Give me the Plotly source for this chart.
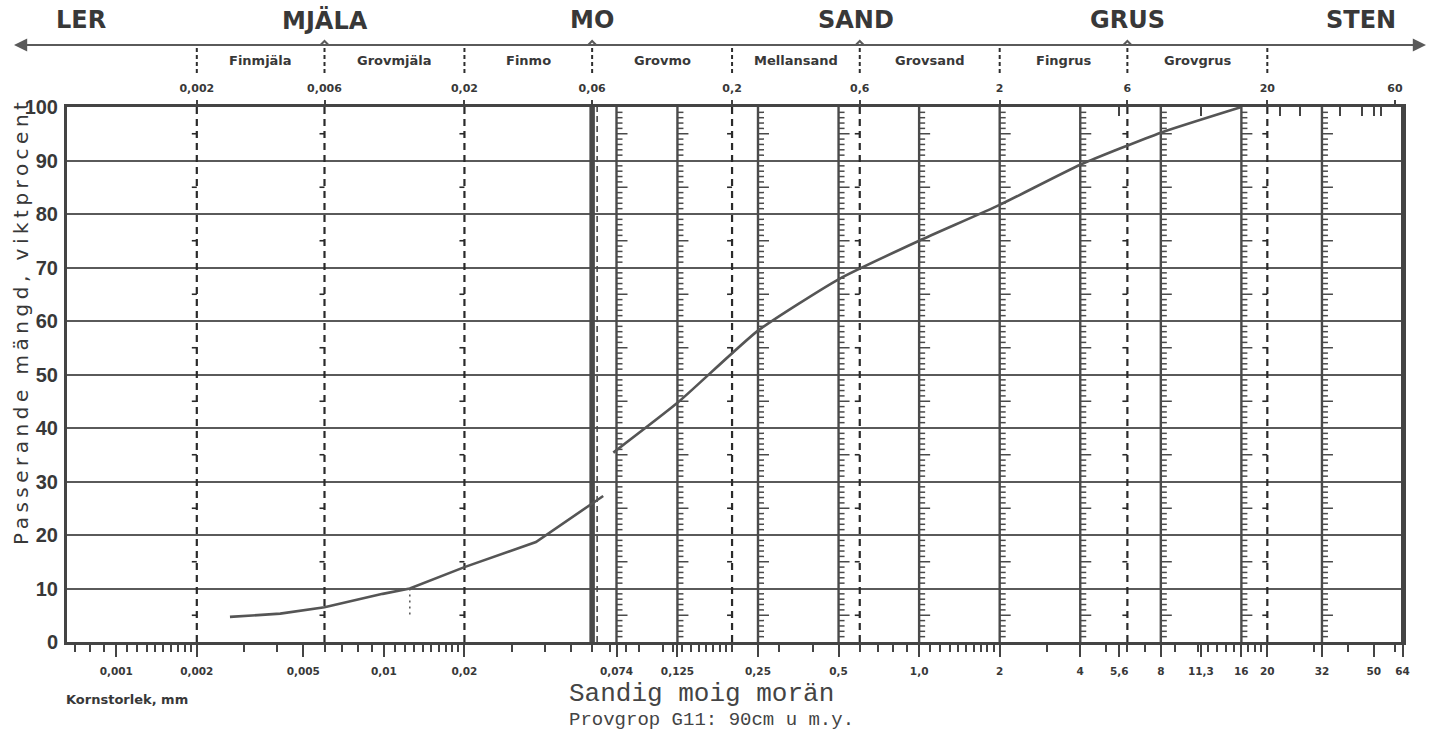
import numpy as np
import plotly.graph_objects as go

# ---- grading curve: passing percentage by grain size (mm) ----
# fine fraction (sedimentation analysis)
fine_size = [0.00266, 0.0041, 0.006, 0.0099, 0.0125, 0.02, 0.037, 0.06, 0.066]
fine_pass = [4.7, 5.3, 6.5, 9.0, 10.0, 14.0, 18.7, 25.8, 27.3]
# coarse fraction (sieve analysis)
sieve_size = [0.072, 0.125, 0.25, 0.5, 1.0, 2.0, 4.0, 8.0, 16.0]
sieve_pass = [35.4, 44.7, 58.2, 67.8, 75.0, 81.7, 89.2, 95.2, 100.0]

# ---- form layout ----
main_classes = ["MJÄLA", "MO", "SAND", "GRUS"]
main_class_pos = [0.006, 0.06, 0.58, 6]
main_limits = [0.006, 0.06, 0.6, 6]
class_limits = [0.002, 0.006, 0.02, 0.06, 0.2, 0.6, 2, 6, 20]
sub_classes = ["Finmjäla", "Grovmjäla", "Finmo", "Grovmo",
               "Mellansand", "Grovsand", "Fingrus", "Grovgrus"]
top_tick_vals = [0.002, 0.006, 0.02, 0.06, 0.2, 0.6, 2, 6, 20, 60]
top_tick_text = ["0,002", "0,006", "0,02", "0,06", "0,2", "0,6", "2", "6", "20", "60"]
top_inner_ticks = [5.6, 11.3, 22.4, 26.5, 37.5, 45, 50, 53]
bottom_tick_vals = [0.001, 0.002, 0.005, 0.01, 0.02, 0.074, 0.125, 0.25, 0.5, 1.0,
                    2, 4, 5.6, 8, 11.3, 16, 20, 32, 50, 64]
bottom_tick_text = ["0,001", "0,002", "0,005", "0,01", "0,02", "0,074", "0,125", "0,25",
                    "0,5", "1,0", "2", "4", "5,6", "8", "11,3", "16", "20", "32", "50", "64"]
sieve_lines = [0.074, 0.125, 0.25, 0.5, 1.0, 2, 4, 8, 16, 32]
dashed_limits = [0.002, 0.006, 0.02, 0.2, 0.6, 6, 20]
thick_limit = 0.06
y_ticks = list(range(0, 101, 10))

INK = "#383838"
HEAD_FONT = "DejaVu Sans"
NARROW = "Liberation Sans Narrow, Liberation Sans, sans-serif"
MONO = "Liberation Mono"

X_RANGE = [-3.184, 1.808]          # log10 of 0.000655 .. 64.3 mm
PX_PER_DEC = 1336 / (X_RANGE[1] - X_RANGE[0])


def px_factor(px):
    """multiplicative x-step equal to a given horizontal pixel distance"""
    return 10 ** (px / PX_PER_DEC)


fig = go.Figure()

# sieve lines with a 1 % comb on their right side
sx, sy, cx, cy = [], [], [], []
for s in sieve_lines:
    sx += [s, s, None]
    sy += [0, 100, None]
    for p in range(1, 100):
        if p % 10 == 0:
            continue
        L = 11 if p % 5 == 0 else 6
        cx += [s, s * px_factor(L), None]
        cy += [p, p, None]
fig.add_trace(go.Scatter(x=cx, y=cy, mode="lines", line=dict(color="#4a4a4a", width=1.5),
                         hoverinfo="skip", showlegend=False))
fig.add_trace(go.Scatter(x=sx, y=sy, mode="lines", line=dict(color="#4a4a4a", width=2.4),
                         hoverinfo="skip", showlegend=False))

# dashed class limits, with a short stub to the left at every odd 5 %
dx, dy, kx, ky = [], [], [], []
for d in dashed_limits:
    dx += [d, d, None]
    dy += [0, 100, None]
    for p in range(5, 100, 10):
        kx += [d, d / px_factor(5), None]
        ky += [p, p, None]
fig.add_trace(go.Scatter(x=dx, y=dy, mode="lines",
                         line=dict(color="#2a2a2a", width=2.2, dash="7px,5px"),
                         hoverinfo="skip", showlegend=False))
fig.add_trace(go.Scatter(x=kx, y=ky, mode="lines",
                         line=dict(color="#2a2a2a", width=1.6),
                         hoverinfo="skip", showlegend=False))

# the silt/sand boundary: heavy line with a dashed companion
fig.add_trace(go.Scatter(x=[thick_limit, thick_limit], y=[0, 100], mode="lines",
                         line=dict(color="#4a4a4a", width=5.5),
                         hoverinfo="skip", showlegend=False))
t2 = thick_limit * px_factor(5)
fig.add_trace(go.Scatter(x=[t2, t2], y=[0, 100], mode="lines",
                         line=dict(color="#4a4a4a", width=1.6, dash="6px,4px"),
                         hoverinfo="skip", showlegend=False))

# grading curve
fig.add_trace(go.Scatter(x=fine_size, y=fine_pass, mode="lines",
                         line=dict(color="#555555", width=2.6),
                         hoverinfo="skip", showlegend=False))
fig.add_trace(go.Scatter(x=sieve_size, y=sieve_pass, mode="lines",
                         line=dict(color="#555555", width=2.6, shape="spline", smoothing=0.5),
                         hoverinfo="skip", showlegend=False))

# d10 marker: dotted drop from the 10 % crossing of the curve
d10 = 10 ** np.interp(10, fine_pass, np.log10(fine_size))
fig.add_trace(go.Scatter(x=[d10, d10], y=[10, 4.5], mode="lines",
                         line=dict(color="#555555", width=1.5, dash="2px,4px"),
                         hoverinfo="skip", showlegend=False))

# invisible trace to carry the top scale
fig.add_trace(go.Scatter(x=[0.01, 1], y=[50, 50], xaxis="x2", mode="lines",
                         line=dict(width=0), opacity=0, hoverinfo="skip",
                         showlegend=False))

minor_vals = []
for k in range(-4, 2):
    for m in list(np.arange(1.1, 2.0, 0.1)) + list(range(2, 10)):
        v = m * 10 ** k
        if 10 ** X_RANGE[0] <= v <= 10 ** X_RANGE[1]:
            minor_vals.append(float(v))

fig.update_layout(
    width=1429, height=755,
    margin=dict(l=67, r=26, t=107, b=113),
    paper_bgcolor="white", plot_bgcolor="white",
    font=dict(family=HEAD_FONT, color=INK),
    xaxis=dict(type="log", range=X_RANGE, showgrid=False, zeroline=False,
               showline=True, linecolor="#444444", linewidth=3, mirror=True,
               tickmode="array", tickvals=bottom_tick_vals, ticktext=bottom_tick_text,
               ticks="outside", ticklen=12, tickwidth=2, tickcolor="#444444",
               ticklabelstandoff=5,
               tickfont=dict(family=HEAD_FONT, size=10.5, color=INK, weight="bold"),
               minor=dict(tickvals=minor_vals, ticks="outside", ticklen=7,
                          tickwidth=1.6, tickcolor="#444444", showgrid=False)),
    xaxis2=dict(type="log", range=X_RANGE, overlaying="x", side="top",
                showgrid=False, zeroline=False, showline=False,
                tickmode="array", tickvals=top_tick_vals, ticktext=top_tick_text,
                ticks="outside", ticklen=6, tickwidth=2, tickcolor="#444444",
                ticklabelstandoff=4,
                tickfont=dict(family=HEAD_FONT, size=11, color=INK, weight="bold"),
                minor=dict(tickvals=top_inner_ticks, ticks="inside", ticklen=9,
                           tickwidth=2, tickcolor="#444444", showgrid=False)),
    yaxis=dict(range=[0, 100], tickmode="array", tickvals=y_ticks,
               showgrid=True, gridcolor="#5a5a5a", gridwidth=2, zeroline=False,
               showline=True, linecolor="#444444", linewidth=3, mirror=True,
               ticks="", ticklabelstandoff=2,
               tickfont=dict(family=NARROW, size=20, color=INK, weight="bold")),
)


def py(Y):
    return (642 - Y) / 535


def pxp(X):
    return (X - 67) / 1336


# heavy right border
fig.add_shape(type="line", xref="paper", yref="paper", x0=1, x1=1, y0=0, y1=1,
              line=dict(color="#444444", width=4))

# header: double-headed scale arrow with small peaks at the main limits
ay = py(45)
fig.add_shape(type="line", xref="paper", yref="paper", x0=pxp(16), x1=pxp(1424),
              y0=ay, y1=ay, line=dict(color="#5a5a5a", width=2.2))
for c in main_limits:
    fig.add_shape(type="path", xref="x", yref="paper",
                  path=(f"M {c / px_factor(4)},{ay} "
                        f"L {c},{ay + 4 / 535} "
                        f"L {c * px_factor(4)},{ay}"),
                  line=dict(color="#5a5a5a", width=2))
fig.add_annotation(xref="paper", yref="paper", x=pxp(14), y=ay, ax=40, ay=0,
                   axref="pixel", ayref="pixel", text="", showarrow=True,
                   arrowhead=2, arrowsize=1.2, arrowwidth=2.2, arrowcolor="#5a5a5a")
fig.add_annotation(xref="paper", yref="paper", x=pxp(1426), y=ay, ax=-40, ay=0,
                   axref="pixel", ayref="pixel", text="", showarrow=True,
                   arrowhead=2, arrowsize=1.2, arrowwidth=2.2, arrowcolor="#5a5a5a")

# header separators between sub classes
for c in class_limits:
    fig.add_shape(type="line", xref="x", yref="paper", x0=c, x1=c,
                  y0=py(48), y1=py(75),
                  line=dict(color="#2e2e2e", width=2, dash="4px,3px"))

HEAD = dict(family=HEAD_FONT, size=24, color=INK, weight="bold")
# main classes
fig.add_annotation(xref="paper", yref="paper", x=pxp(81), y=py(20), text="LER",
                   xanchor="center", yanchor="middle", showarrow=False, font=HEAD)
fig.add_annotation(xref="paper", yref="paper", x=pxp(1361), y=py(20), text="STEN",
                   xanchor="center", yanchor="middle", showarrow=False, font=HEAD)
for name, pos in zip(main_classes, main_class_pos):
    fig.add_annotation(xref="x", yref="paper", x=np.log10(pos), y=py(20), text=name,
                       xanchor="center", yanchor="middle", showarrow=False, font=HEAD)

# sub classes, centred between their limits
for name, a, b in zip(sub_classes, class_limits[:-1], class_limits[1:]):
    fig.add_annotation(xref="x", yref="paper", x=(np.log10(a) + np.log10(b)) / 2,
                       y=py(60), text=name, showarrow=False,
                       xanchor="center", yanchor="middle",
                       font=dict(family=HEAD_FONT, size=13, color=INK, weight="bold"))

# axis captions
fig.add_annotation(xref="paper", yref="paper", x=pxp(21), y=py(322),
                   text='<span style="letter-spacing:4.5px">Passerande mängd, viktprocent</span>',
                   textangle=-90, showarrow=False, xanchor="center", yanchor="middle",
                   font=dict(family=HEAD_FONT, size=20, color=INK))
fig.add_annotation(xref="paper", yref="paper", x=pxp(64), y=py(699), xanchor="left",
                   yanchor="middle", text="Kornstorlek, mm", showarrow=False,
                   font=dict(family=HEAD_FONT, size=13, color=INK, weight="bold"))

# sample description
fig.add_annotation(xref="paper", yref="paper", x=pxp(567), y=py(694), xanchor="left",
                   yanchor="middle", text="Sandig moig morän", showarrow=False,
                   font=dict(family=MONO, size=26, color="#444444"))
fig.add_annotation(xref="paper", yref="paper", x=pxp(567), y=py(720), xanchor="left",
                   yanchor="middle", text="Provgrop G11: 90cm u m.y.", showarrow=False,
                   font=dict(family=MONO, size=19, color="#444444"))

fig.write_html("out.html")
